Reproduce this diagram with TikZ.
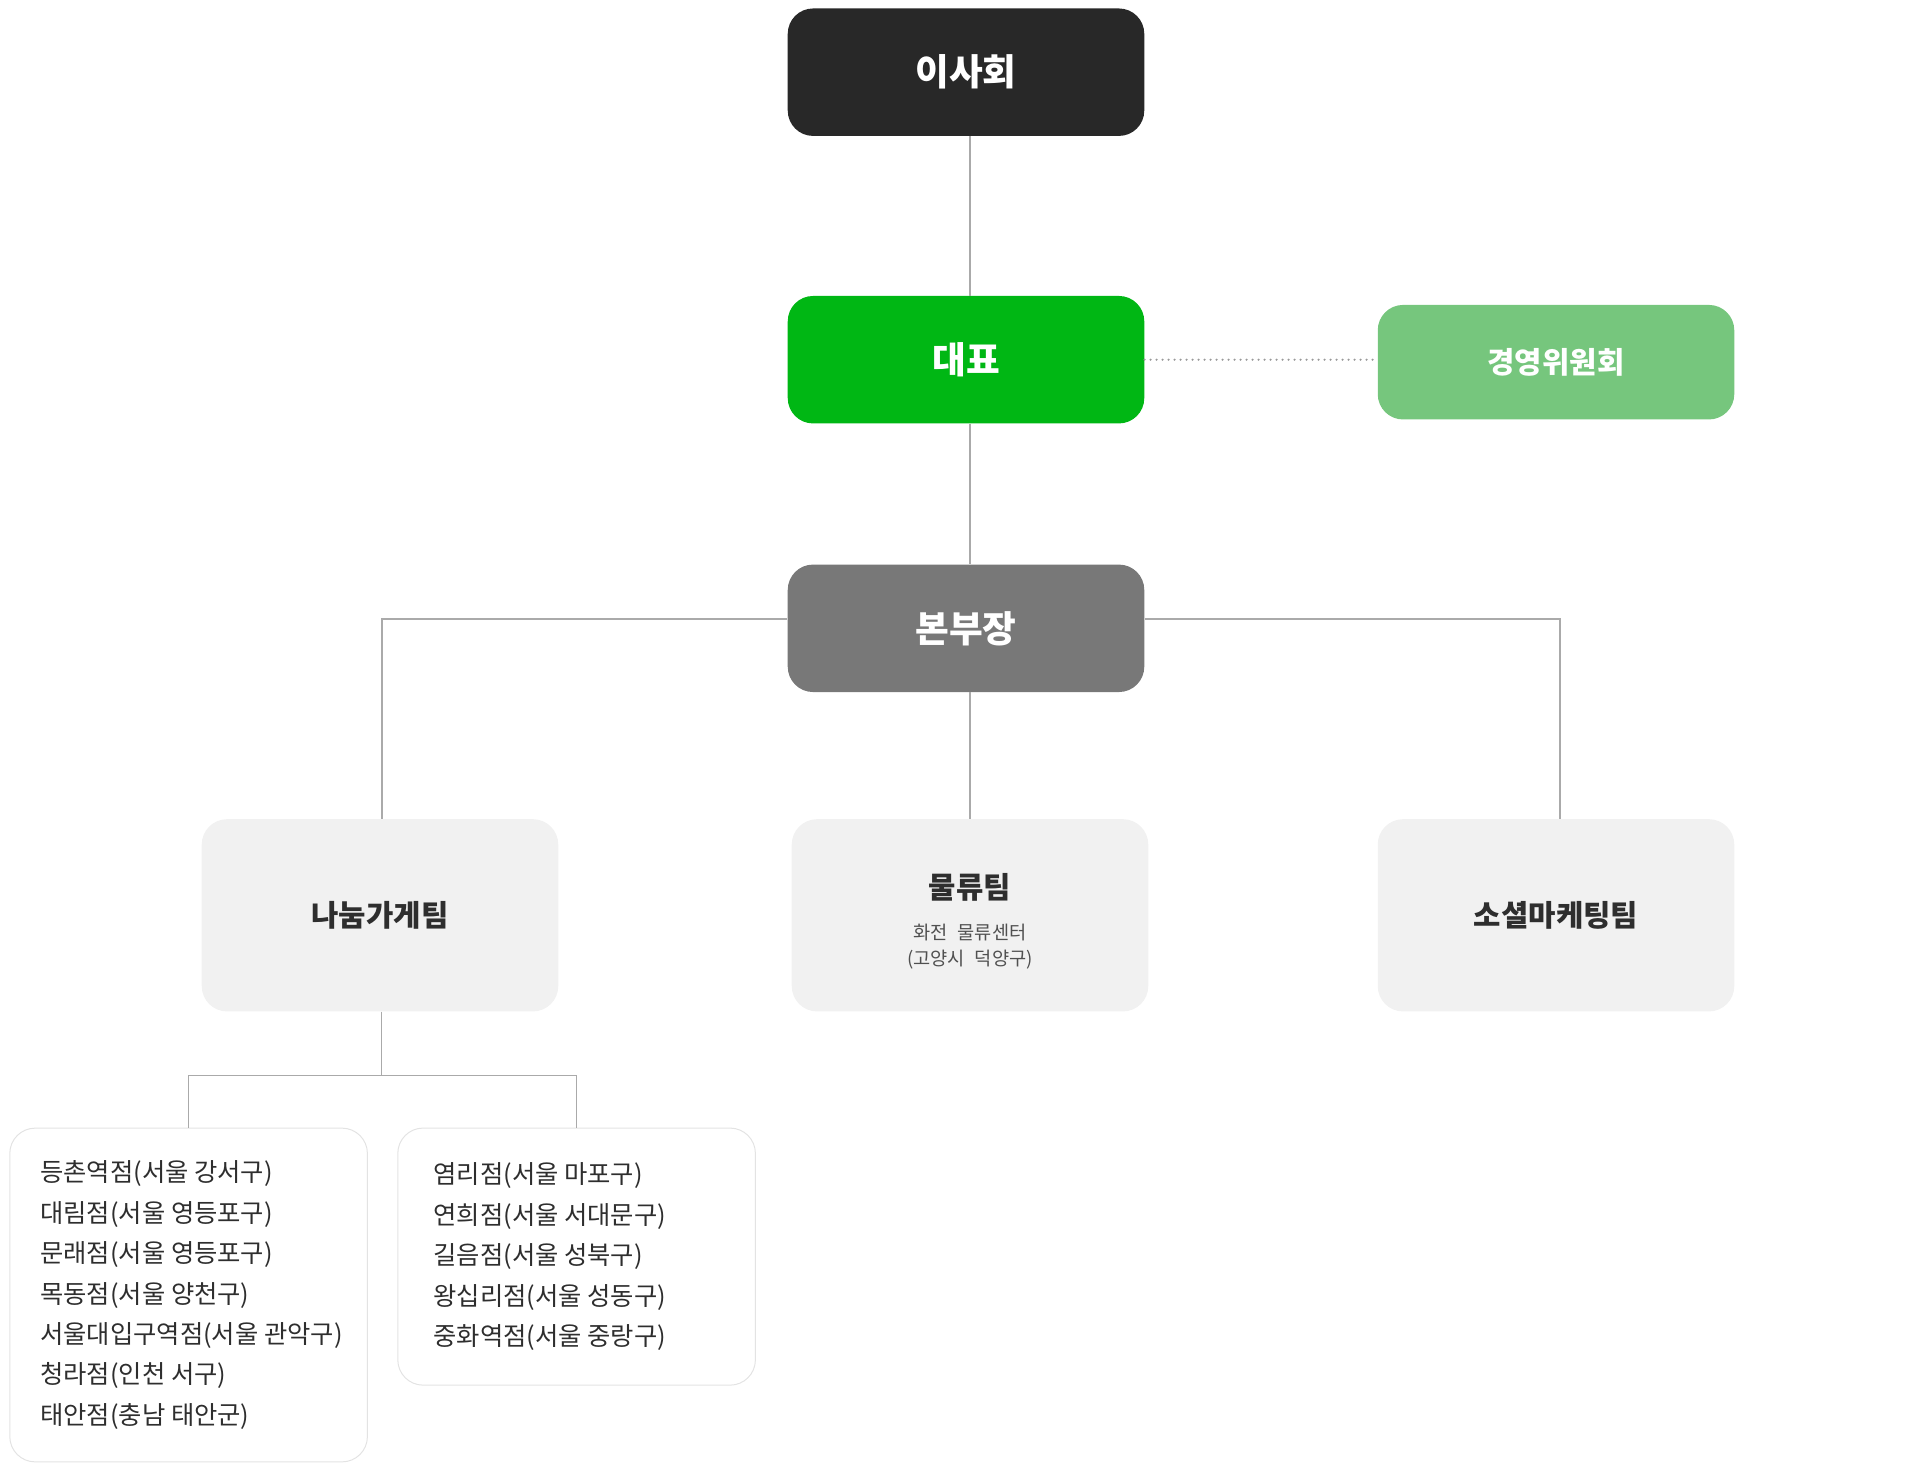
\documentclass[tikz,border=0pt]{standalone}
\usepackage{fontspec}
\setmainfont{Noto Sans CJK KR}
\definecolor{boardblack}{HTML}{282828}
\definecolor{ceogreen}{HTML}{00B714}
\definecolor{commgreen}{HTML}{76C67D}
\definecolor{hqgray}{HTML}{787878}
\definecolor{teamgray}{HTML}{F1F1F1}
\definecolor{shopline}{HTML}{E3E3E3}
\definecolor{linkgray}{HTML}{AAAAAA}
\definecolor{dotgray}{HTML}{999999}
\definecolor{textdark}{HTML}{2E2E2E}
\definecolor{textmid}{HTML}{505050}
\newcommand{\subfont}{\fontsize{14}{19.5}\selectfont\mdseries\color{textmid}}
\begin{document}
\begin{tikzpicture}[x=0.75pt,y=-0.75pt,
        box/.style={rounded corners=19pt,minimum width=267.4pt,align=center,inner sep=0pt},
        top/.style={box,minimum height=95.6pt,text=white,font=\fontsize{27.5}{32}\selectfont\bfseries},
        team/.style={box,fill=teamgray,text width=267.4pt,minimum height=144.2pt,text=textdark,font=\fontsize{22.3}{26}\selectfont\bfseries},
        shop/.style={rounded corners=19pt,draw=shopline,line width=0.75pt,minimum width=268.2pt,inner sep=0pt},
        shoptext/.style={anchor=west,align=left,inner sep=0pt,text=textdark,font=\fontsize{19}{30.3}\selectfont},
        link/.style={draw=linkgray,line width=0.9pt}]
        \useasboundingbox (0,0) rectangle (1919,1473);

        \node[top,fill=boardblack] (board) at (966,72.2) {이사회};
        \node[top,fill=ceogreen] (ceo) at (966,359.7) {대표};
        \node[top,fill=hqgray] (hq) at (966,628.3) {본부장};
        \node[box,fill=commgreen,minimum height=85.9pt,text=white,font=\fontsize{22.3}{26}\selectfont\bfseries] (comm) at (1556,362.2) {경영위원회};

        \node[team] (nanum) at (380,915.3) {나눔가게팀};
        \node[team] (logis) at (970,915.3) {\rule{0pt}{27.5pt}물류팀\\[11.5pt]{\subfont 화전 물류센터\\(고양시 덕양구)\par}};
        \node[team] (social) at (1556,915.3) {소셜마케팅팀};

        \node[shop,minimum height=250.3pt] (shops1) at (188.6,1295) {};
        \node[shoptext] (list1) at ([xshift=23pt]shops1.west)
            {등촌역점(서울 강서구)\\대림점(서울 영등포구)\\문래점(서울 영등포구)\\목동점(서울 양천구)\\서울대입구역점(서울 관악구)\\청라점(인천 서구)\\태안점(충남 태안군)};
        \node[shop,minimum height=192.8pt] (shops2) at (576.6,1256.6) {};
        \node[shoptext] (list2) at ([xshift=27pt]shops2.west)
            {염리점(서울 마포구)\\연희점(서울 서대문구)\\길음점(서울 성북구)\\왕십리점(서울 성동구)\\중화역점(서울 중랑구)};

        \draw[link] (board.south -| logis) -- (ceo.north -| logis);
        \draw[link] (ceo.south -| logis) -- (hq.north -| logis);
        \draw[link] (hq.south -| logis) -- (logis.north);
        \draw[link] ([yshift=7pt]hq.west) -| ([xshift=1.5pt]nanum.north);
        \draw[link] ([yshift=7pt]hq.east) -| ([xshift=3pt]social.north);
        \draw[dotgray,line width=1.8pt,line cap=round,dash pattern=on 0pt off 4.5pt] (ceo.east) -- (ceo.east -| comm.west);

        \coordinate (split) at (381.5,1075.2);
        \draw[link] (nanum.south -| split) -- (split);
        \draw[link] (shops1.north) |- (split) -| (shops2.north);
    \end{tikzpicture}
\end{document}
